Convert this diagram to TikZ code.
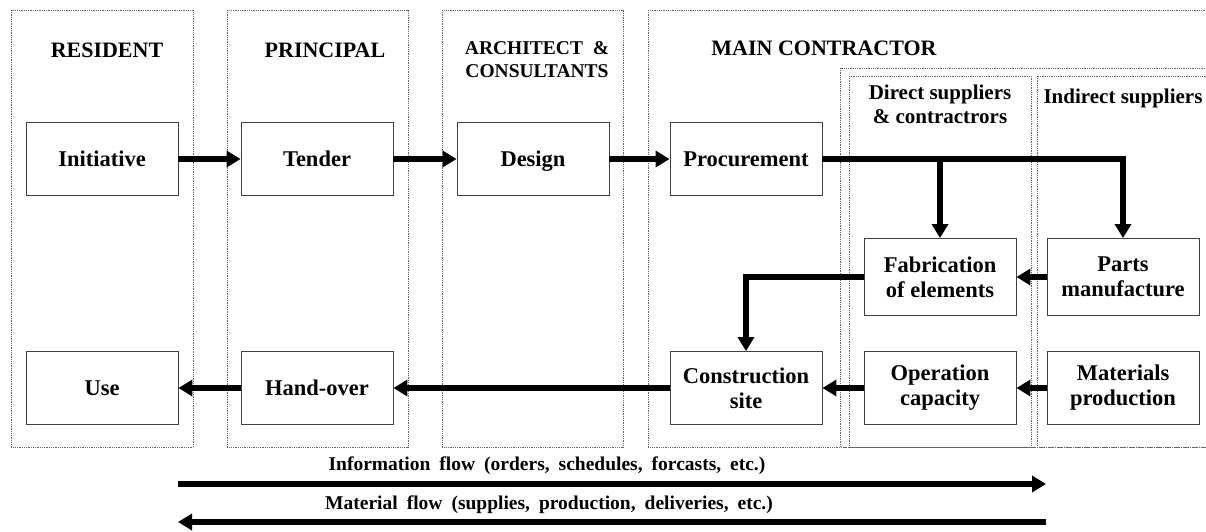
\documentclass[tikz,border=0pt]{standalone}
\usepackage{fontspec}
\setmainfont{Liberation Serif}
\usetikzlibrary{positioning,arrows.meta}
\newcommand{\widesp}{\spaceskip=9pt\relax}

\begin{document}
\begin{tikzpicture}[x=1pt,y=-1pt,
		lane/.style={draw=black!60, densely dotted, line width=0.8pt},
		box/.style={draw=black!75, line width=0.9pt, minimum width=152pt, minimum height=73pt, align=center, font=\fontsize{22.5}{25}\selectfont\bfseries},
		head/.style={align=center, font=\fontsize{22}{24}\selectfont\bfseries},
		subhead/.style={align=center, font=\fontsize{21}{24}\selectfont\bfseries},
		flow/.style={line width=5.2pt, -{Triangle[length=14pt,width=16pt]}},
		note/.style={font=\fontsize{19.5}{21}\selectfont\bfseries}]
		\useasboundingbox (0,0) rectangle (1206,531);

		\draw[lane] (11,10) rectangle (193,447);
		\draw[lane] (227,10) rectangle (408,447);
		\draw[lane] (442,10) rectangle (623,447);
		\draw[lane] (648,10) rectangle (1215,447);
		\draw[lane] (840,68) rectangle (1215,447);
		\draw[lane] (849,76) rectangle (1031,447);
		\draw[lane] (1037,76) rectangle (1215,447);

		\node[head] (res) at (107,50) {RESIDENT};
		\node[head] (pri) at (325,50) {PRINCIPAL};
		\node[head, font=\fontsize{19.5}{23}\selectfont\bfseries] (arc) at (537,60) {ARCHITECT \ \&\\CONSULTANTS};
		\node[head] (mc) at (824,48) {MAIN CONTRACTOR};
		\node[subhead] (dir) at (940,104) {Direct suppliers\\\& contractrors};
		\node[subhead] (ind) at (1123,98) {Indirect suppliers};

		\node[box] (ini) at (102,159) {Initiative};
		\node[box] (ten) at (317,159) {Tender};
		\node[box, text depth=0pt] (des) at (533,159) {Design};
		\node[box] (pro) at (746,159) {Procurement};
		\node[box, minimum height=77pt] (fab) at (940,277) {Fabrication\\of elements};
		\node[box, minimum height=77pt] (par) at (1123,277) {Parts\\manufacture};
		\node[box] (use) at (102,388) {Use};
		\node[box] (han) at (317,388) {Hand-over};
		\node[box] (con) at (746,388) {Construction\\site};
		\node[box] (ope) at (940,388) {Operation\\capacity};
		\node[box] (mat) at (1123,388) {Materials\\production};

		\draw[flow] (ini) -- (ten);
		\draw[flow] (ten) -- (des);
		\draw[flow] (des) -- (pro);
		\draw[flow] (pro.east) -| (par.north);
		\draw[flow] (fab.north |- pro.east) -- (fab.north);
		\draw[flow] (par) -- (fab);
		\draw[flow] (fab.west) -| (con.north);
		\draw[flow] (mat) -- (ope);
		\draw[flow] (ope) -- (con);
		\draw[flow] (con) -- (han);
		\draw[flow] (han) -- (use);

		\coordinate (infoL) at (178,484);
		\coordinate (infoR) at (1046,484);
		\coordinate (matL) at (178,522);
		\coordinate (matR) at (1046,522);
		\node[note] (info) at (547,466) {\widesp Information flow (orders, schedules, forcasts, etc.)};
		\node[note] (matf) at (549,505) {\widesp Material flow (supplies, production, deliveries, etc.)};
		\draw[flow, line width=5.5pt] (infoL) -- (infoR);
		\draw[flow, line width=5.5pt] (matR) -- (matL);
	\end{tikzpicture}
\end{document}
